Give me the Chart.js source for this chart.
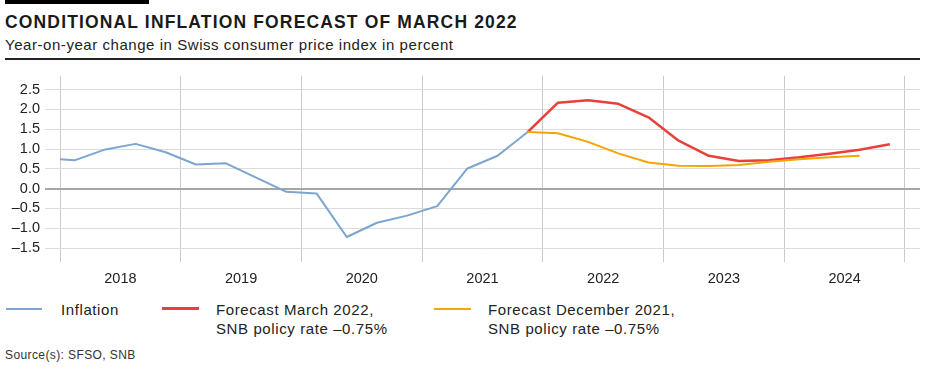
<!DOCTYPE html>
<html>
<head>
<meta charset="utf-8">
<script src="https://cdn.jsdelivr.net/npm/chart.js@4"></script>
<style>
  body { margin: 0; background: #fff; width: 948px; height: 378px; overflow: hidden; position: relative;
         font-family: "Liberation Sans", Arial, sans-serif; color: #1a1a1a; }
  .bar { position: absolute; left: 5px; top: 0; width: 144px; height: 4px; background: #000; }
  .title { position: absolute; left: 5px; top: 12px; font-size: 17.5px; font-weight: bold; letter-spacing: 1.15px; white-space: nowrap; }
  .subtitle { position: absolute; left: 5px; top: 36px; font-size: 15px; letter-spacing: 0.55px; white-space: nowrap; color: #222; }
  .rule { position: absolute; left: 5px; top: 58px; width: 915px; height: 2px; background: #222; }
  #wrap { position: absolute; left: 0; top: 62px; width: 948px; height: 230px; }
  .legend { position: absolute; top: 300px; font-size: 15px; letter-spacing: 0.6px; line-height: 19px; color: #222; white-space: nowrap; }
  .swatch { position: absolute; top: 308px; height: 2px; }
  .source { position: absolute; left: 5px; top: 348px; font-size: 12px; letter-spacing: 0.4px; color: #333; }
</style>
</head>
<body>
<div class="bar"></div>
<div class="title">CONDITIONAL INFLATION FORECAST OF MARCH 2022</div>
<div class="subtitle">Year-on-year change in Swiss consumer price index in percent</div>
<div class="rule"></div>
<div id="wrap"><canvas id="chart" width="948" height="230"></canvas></div>

<div class="swatch" style="left:6px;width:36px;background:#7ca5cf"></div>
<div class="legend" style="left:61px">Inflation</div>
<div class="swatch" style="left:162px;width:37px;background:#e8413b;height:3px;top:307px"></div>
<div class="legend" style="left:216px">Forecast March 2022,<br>SNB policy rate –0.75%</div>
<div class="swatch" style="left:434px;width:37px;background:#f5a400"></div>
<div class="legend" style="left:488px">Forecast December 2021,<br>SNB policy rate –0.75%</div>
<div class="source">Source(s): SFSO, SNB</div>

<script>
// quarters, plotted at the middle of each quarter
var inflationQuarters = ['2017Q4', '2018Q1', '2018Q2', '2018Q3', '2018Q4', '2019Q1', '2019Q2', '2019Q3', '2019Q4',
    '2020Q1', '2020Q2', '2020Q3', '2020Q4', '2021Q1', '2021Q2', '2021Q3', '2021Q4'];
var inflation = [0.76, 0.72, 0.99, 1.13, 0.92, 0.61, 0.64, 0.28, -0.08,
    -0.12, -1.22, -0.86, -0.68, -0.44, 0.51, 0.83, 1.43];

var forecastMarQuarters = ['2021Q4', '2022Q1', '2022Q2', '2022Q3', '2022Q4', '2023Q1', '2023Q2', '2023Q3', '2023Q4',
    '2024Q1', '2024Q2', '2024Q3', '2024Q4'];
var forecastMar = [1.43, 2.17, 2.23, 2.14, 1.80, 1.21, 0.83, 0.70, 0.72, 0.79, 0.88, 0.98, 1.12];

var forecastDecQuarters = ['2021Q4', '2022Q1', '2022Q2', '2022Q3', '2022Q4', '2023Q1', '2023Q2', '2023Q3', '2023Q4',
    '2024Q1', '2024Q2', '2024Q3'];
var forecastDec = [1.43, 1.40, 1.18, 0.89, 0.66, 0.58, 0.57, 0.60, 0.68, 0.74, 0.79, 0.83];

var years = [2018, 2019, 2020, 2021, 2022, 2023, 2024];
var yTicks = [-1.5, -1.0, -0.5, 0.0, 0.5, 1.0, 1.5, 2.0, 2.5];

function quarterPos(q) {
    var y = parseInt(q.slice(0, 4), 10);
    var n = parseInt(q.slice(5), 10);
    return y + (n - 1) * 0.25 + 0.125;
}
function toPoints(quarters, values) {
    return quarters.map(function(q, i) { return { x: quarterPos(q), y: values[i] }; });
}

// grid lines at year boundaries, labels in the middle of each year
var yearStarts = years.concat([years[years.length - 1] + 1]);
var xTicks = [];
yearStarts.forEach(function(y) { xTicks.push({ value: y }); });
years.forEach(function(y) { xTicks.push({ value: y + 0.5 }); });
xTicks.sort(function(a, b) { return a.value - b.value; });

var fontFamily = '"Liberation Sans", Arial, sans-serif';

var ctx = document.getElementById('chart').getContext('2d');
var chart = new Chart(ctx, {
    type: 'line',
    data: {
        datasets: [{
            label: 'Forecast December 2021, SNB policy rate –0.75%',
            data: toPoints(forecastDecQuarters, forecastDec),
            borderColor: '#f5a400',
            borderWidth: 2
        }, {
            label: 'Forecast March 2022, SNB policy rate –0.75%',
            data: toPoints(forecastMarQuarters, forecastMar),
            borderColor: '#e8413b',
            borderWidth: 2.5
        }, {
            label: 'Inflation',
            data: toPoints(inflationQuarters, inflation),
            borderColor: '#7ca5cf',
            borderWidth: 2,
            clip: { left: -15, top: 5, right: 5, bottom: 5 }
        }]
    },
    options: {
        responsive: false,
        animation: false,
        devicePixelRatio: 1,
        layout: { padding: { top: 11, right: 28, left: 0, bottom: 0 } },
        elements: { point: { radius: 0 }, line: { tension: 0, borderJoinStyle: 'round' } },
        plugins: { legend: { display: false }, tooltip: { enabled: false } },
        scales: {
            x: {
                type: 'linear',
                min: 2017.875,
                max: 2025.125,
                afterBuildTicks: function(scale) { scale.ticks = xTicks.slice(); },
                afterFit: function(scale) { scale.height = 30; },
                border: { display: false },
                grid: {
                    drawTicks: false,
                    color: function(c) { return Number.isInteger(c.tick.value) ? '#cbcbcb' : 'rgba(0,0,0,0)'; },
                    lineWidth: 1
                },
                ticks: {
                    autoSkip: false,
                    maxRotation: 0,
                    padding: 8,
                    color: '#222',
                    font: { family: fontFamily, size: 14.5 },
                    callback: function(v) { return Number.isInteger(v) ? '' : String(Math.floor(v)); }
                }
            },
            y: {
                min: -1.85,
                max: 2.85,
                afterBuildTicks: function(scale) { scale.ticks = yTicks.map(function(v) { return { value: v }; }); },
                afterFit: function(scale) { scale.width = 45; },
                border: { display: false },
                grid: {
                    drawTicks: false,
                    color: function(c) { return c.tick.value === 0 ? '#a6a6a6' : '#dcdcdc'; },
                    lineWidth: function(c) { return c.tick.value === 0 ? 2 : 1; }
                },
                ticks: {
                    padding: 5,
                    color: '#222',
                    font: { family: fontFamily, size: 14.5 },
                    callback: function(v) { return v < 0 ? '–' + Math.abs(v).toFixed(1) : v.toFixed(1); }
                }
            }
        }
    }
});
</script>
</body>
</html>
